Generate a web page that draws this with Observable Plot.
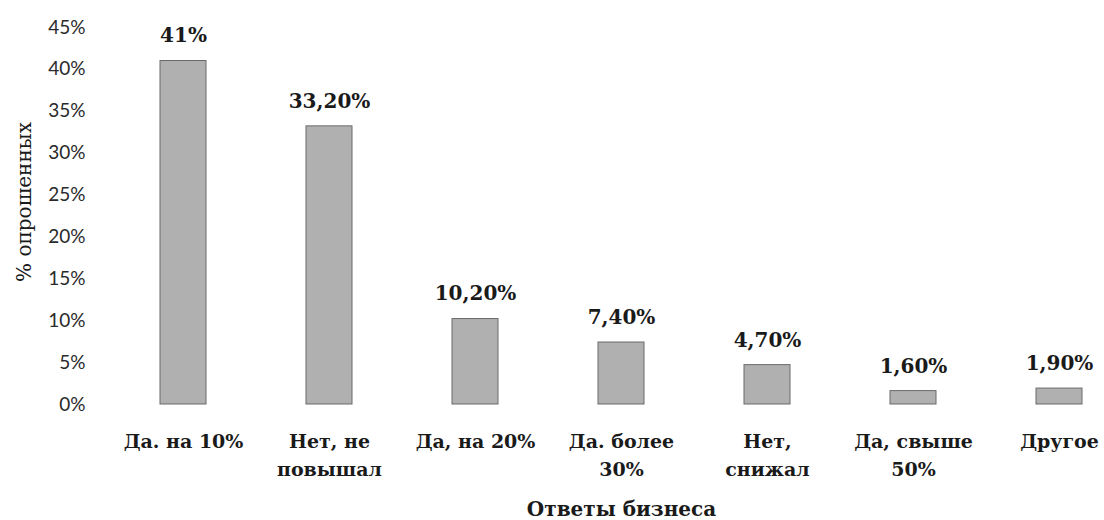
<!DOCTYPE html>
<html>
<head>
<meta charset="utf-8">
<script src="https://cdn.jsdelivr.net/npm/d3@7"></script>
<script src="https://cdn.jsdelivr.net/npm/@observablehq/plot@0.6"></script>
<style>
  html, body { margin: 0; padding: 0; background: #fff; }
  #chart { width: 1104px; height: 520px; }
</style>
</head>
<body>
<div id="chart"></div>
<script>
const categories = ["Да. на 10%", "Нет, не\nповышал", "Да, на 20%", "Да. более\n30%", "Нет,\nснижал", "Да, свыше\n50%", "Другое"];
const values = [41, 33.2, 10.2, 7.4, 4.7, 1.6, 1.9];
const valueLabels = ["41%", "33,20%", "10,20%", "7,40%", "4,70%", "1,60%", "1,90%"];
const yTicks = [0, 5, 10, 15, 20, 25, 30, 35, 40, 45];
const yTitle = ["% опрошенных"];
const xTitle = ["Ответы бизнеса"];

const data = categories.map((c, i) => ({cat: c, value: values[i], label: valueLabels[i]}));

const serif = "'DejaVu Serif', 'Liberation Serif', serif";

const chart = Plot.plot({
  width: 1104,
  height: 520,
  marginTop: 27,
  marginBottom: 116,
  marginLeft: 143,
  marginRight: 5,
  style: {background: "#fff"},
  x: {domain: categories, paddingInner: 0.687, paddingOuter: 0.1},
  y: {domain: [0, 45]},
  marks: [
    Plot.axisY({
      ticks: yTicks,
      tickSize: 0,
      tickPadding: 58,
      tickFormat: d => d + "%",
      fontSize: 19,
      fontFamily: "Lato, 'Open Sans', sans-serif",
      fill: "#2a2a2a",
      label: null
    }),
    Plot.axisX({
      tickSize: 0,
      tickPadding: 24,
      fontSize: 19,
      fontWeight: "bold",
      fontFamily: serif,
      fill: "#1a1a1a",
      lineHeight: 1.45,
      label: null
    }),
    Plot.text(yTitle, {frameAnchor: "left", textAnchor: "middle", lineAnchor: "middle", rotate: -90, dx: -119, dy: -14, fontSize: 20, fontFamily: serif, fill: "#1a1a1a"}),
    Plot.text(xTitle, {frameAnchor: "bottom", textAnchor: "middle", lineAnchor: "middle", dy: 105, fontSize: 20, fontWeight: "bold", fontFamily: serif, fill: "#1a1a1a"}),
    Plot.barY(data, {x: "cat", y: "value", fill: "#b0b0b0", stroke: "#6a6a6a", strokeWidth: 1}),
    Plot.text(data, {x: "cat", y: "value", text: "label", dy: -25, fontSize: 20, fontWeight: "bold", fontFamily: serif, fill: "#1a1a1a"})
  ]
});
document.getElementById("chart").appendChild(chart);
</script>
</body>
</html>
